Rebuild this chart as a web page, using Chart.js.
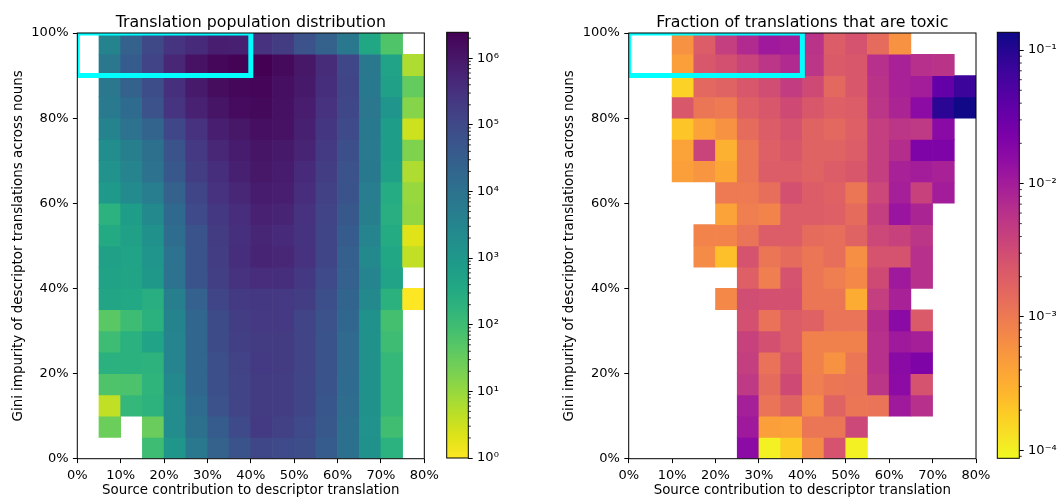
<!DOCTYPE html>
<html>
<head>
<meta charset="utf-8">
<script src="https://cdn.jsdelivr.net/npm/chart.js@4.4.0/dist/chart.umd.min.js"></script>
<style>
  html, body { margin: 0; padding: 0; background: #fff; }
  #wrap { position: relative; width: 1060px; height: 499px; }
  #wrap canvas { position: absolute; left: 0; top: 0; }
</style>
</head>
<body>
<div id="wrap">
  <canvas id="popChart" width="1060" height="499"></canvas>
  <canvas id="popBar" width="1060" height="499"></canvas>
  <canvas id="toxChart" width="1060" height="499"></canvas>
  <canvas id="toxBar" width="1060" height="499"></canvas>
</div>
<script>
// bin edges (%)
const sourceEdges = [0, 5, 10, 15, 20, 25, 30, 35, 40, 45, 50, 55, 60, 65, 70, 75, 80];
const giniEdges = [0, 5, 10, 15, 20, 25, 30, 35, 40, 45, 50, 55, 60, 65, 70, 75, 80, 85, 90, 95, 100];
const xTicks = [0, 10, 20, 30, 40, 50, 60, 70, 80];
const yTicks = [0, 20, 40, 60, 80, 100];
const highlightBox = [{x: 0, y: 90}, {x: 40, y: 90}, {x: 40, y: 100}, {x: 0, y: 100}, {x: 0, y: 90}];

const popLimits = [1, 2.45e6];
const popTicks = [1, 10, 100, 1e3, 1e4, 1e5, 1e6];
const popTickLabels = ['10⁰', '10¹', '10²', '10³', '10⁴', '10⁵', '10⁶'];
const toxicLimits = [8.7e-5, 0.136];
const toxicTicks = [1e-4, 1e-3, 1e-2, 1e-1];
const toxicTickLabels = ['10⁻⁴', '10⁻³', '10⁻²', '10⁻¹'];

// rows listed top (95-100%) to bottom (0-5%), columns 0-5% ... 75-80%
const populationCounts = [
  [null, 3500, 25000, 100000, 270000, 420000, 710000, 680000, 290000, 190000, 62000, 25000, 6800, 390, 58, null],
  [null, 7400, 35000, 130000, 500000, 1200000, 1900000, 2300000, 2450000, 1700000, 1000000, 390000, 110000, 6800, 480, 6],
  [null, 7400, 25000, 79000, 320000, 850000, 1500000, 1900000, 2000000, 1400000, 890000, 350000, 120000, 6300, 560, 34],
  [null, 6000, 15000, 62000, 270000, 630000, 1100000, 1600000, 1800000, 1300000, 790000, 300000, 110000, 7100, 1200, 15],
  [null, 3500, 10000, 22000, 110000, 290000, 710000, 1000000, 1400000, 1200000, 680000, 250000, 93000, 6300, 710, 3],
  [null, 2000, 4500, 11000, 56000, 210000, 500000, 830000, 1100000, 890000, 560000, 200000, 71000, 6000, 710, 17],
  [null, 1500, 3300, 10000, 45000, 170000, 360000, 680000, 1000000, 830000, 420000, 170000, 62000, 6300, 600, 6],
  [null, 890, 2200, 5000, 25000, 120000, 300000, 500000, 830000, 710000, 380000, 150000, 56000, 5000, 290, 10],
  [null, 200, 710, 2400, 17000, 93000, 220000, 380000, 630000, 560000, 300000, 130000, 45000, 4500, 250, 11],
  [null, 320, 560, 1600, 13000, 56000, 190000, 320000, 520000, 400000, 280000, 120000, 35000, 3300, 300, 2],
  [null, 560, 480, 1200, 10000, 56000, 170000, 360000, 560000, 500000, 300000, 120000, 30000, 2500, 380, 4],
  [null, 520, 460, 1000, 10000, 56000, 160000, 290000, 380000, 360000, 220000, 93000, 26000, 3200, 480, null],
  [null, 420, 350, 250, 4500, 26000, 120000, 200000, 220000, 210000, 170000, 74000, 21000, 2400, 210, 1],
  [null, 45, 100, 210, 3500, 19000, 83000, 170000, 210000, 210000, 130000, 62000, 19000, 1600, 83, null],
  [null, 100, 220, 480, 3200, 19000, 83000, 160000, 190000, 190000, 130000, 56000, 16000, 1600, 100, null],
  [null, 220, 210, 190, 3200, 19000, 74000, 140000, 200000, 190000, 130000, 56000, 16000, 1600, 140, null],
  [null, 60, 66, 170, 2400, 19000, 74000, 130000, 190000, 170000, 120000, 56000, 15000, 1600, 140, null],
  [null, 4, 140, 190, 2100, 15000, 62000, 130000, 190000, 170000, 120000, 50000, 13000, 1600, 140, null],
  [null, 28, null, 30, 2100, 11000, 35000, 93000, 200000, 150000, 93000, 45000, 11000, 1500, 93, null],
  [null, null, null, 100, 1100, 6800, 25000, 59000, 110000, 93000, 79000, 35000, 11000, 1600, 200, null]
];

const toxicFractions = [
  [null, null, 5.9e-4, 2.0e-3, 4.3e-3, 7.1e-3, 1.1e-2, 1.0e-2, 5.8e-3, 2.0e-3, 2.6e-3, 1.4e-3, 5.9e-4, null, null, null],
  [null, null, 4.4e-4, 2.4e-3, 2.8e-3, 3.7e-3, 5.4e-3, 7.1e-3, 5.4e-3, 2.2e-3, 2.4e-3, 6.2e-3, 8.9e-3, 6.2e-3, 5.8e-3, null],
  [null, null, 1.7e-4, 1.5e-3, 1.7e-3, 2.4e-3, 3.0e-3, 4.6e-3, 3.2e-3, 1.5e-3, 2.4e-3, 5.8e-3, 8.9e-3, 1.0e-2, 3.5e-2, 6.9e-2],
  [null, null, 2.4e-3, 1.1e-3, 1.0e-3, 1.9e-3, 2.4e-3, 3.2e-3, 2.4e-3, 1.9e-3, 2.0e-3, 5.4e-3, 8.3e-3, 1.6e-2, 9.3e-2, 0.13],
  [null, null, 2.1e-4, 4.1e-4, 5.9e-4, 1.4e-3, 2.0e-3, 2.6e-3, 1.7e-3, 1.5e-3, 1.9e-3, 4.3e-3, 5.4e-3, 4.9e-3, 1.7e-2, null],
  [null, null, 4.1e-4, 3.7e-3, 3.0e-4, 1.1e-3, 1.9e-3, 2.4e-3, 1.7e-3, 1.7e-3, 2.0e-3, 4.3e-3, 6.6e-3, 2.1e-2, 2.1e-2, null],
  [null, null, 4.4e-4, 5.5e-4, 3.8e-4, 1.1e-3, 2.0e-3, 2.0e-3, 1.7e-3, 2.0e-3, 2.4e-3, 4.3e-3, 8.9e-3, 1.0e-2, 8.9e-3, null],
  [null, null, null, null, 1.0e-3, 1.0e-3, 1.3e-3, 2.8e-3, 2.0e-3, 1.8e-3, 1.1e-3, 3.4e-3, 9.5e-3, 4.0e-3, 1.0e-2, null],
  [null, null, null, null, 4.1e-4, 9.1e-4, 7.9e-4, 2.0e-3, 2.0e-3, 1.9e-3, 1.4e-3, 4.3e-3, 1.2e-2, 8.3e-3, null, null],
  [null, null, null, 7.9e-4, 7.9e-4, 1.15e-3, 2.0e-3, 2.0e-3, 1.4e-3, 1.3e-3, 1.7e-3, 3.4e-3, 4.0e-3, 5.4e-3, null, null],
  [null, null, null, 6.8e-4, 2.3e-4, 2.6e-3, 1.1e-3, 1.4e-3, 1.1e-3, 1.3e-3, 6.3e-4, 2.6e-3, 2.6e-3, 6.2e-3, null, null],
  [null, null, null, null, null, 1.9e-3, 9.1e-4, 2.6e-3, 1.1e-3, 9.1e-4, 7.2e-4, 3.2e-3, 1.1e-2, 6.2e-3, null, null],
  [null, null, null, null, 7.2e-4, 3.0e-3, 2.8e-3, 2.8e-3, 1.1e-3, 1.1e-3, 3.3e-4, 4.3e-3, 8.9e-3, null, null, null],
  [null, null, null, null, null, 2.8e-3, 1.2e-3, 2.0e-3, 1.8e-3, 1.15e-3, 1.15e-3, 6.6e-3, 1.7e-2, 2.2e-3, null, null],
  [null, null, null, null, null, 4.0e-3, 2.8e-3, 2.0e-3, 8.5e-4, 8.5e-4, 8.5e-4, 6.2e-3, 1.1e-2, 9.5e-3, null, null],
  [null, null, null, null, null, 4.3e-3, 1.2e-3, 2.6e-3, 8.5e-4, 5.9e-4, 1.1e-3, 6.2e-3, 1.7e-2, 2.1e-2, null, null],
  [null, null, null, null, null, 4.9e-3, 1.4e-3, 3.2e-3, 9.1e-4, 1.1e-3, 1.15e-3, 5.4e-3, 1.6e-2, 2.6e-3, null, null],
  [null, null, null, null, null, 9.5e-3, 1.15e-3, 1.7e-3, 6.8e-4, 1.7e-3, 1.1e-3, 1.15e-3, 1.1e-2, 6.2e-3, null, null],
  [null, null, null, null, null, 1.1e-2, 4.4e-4, 4.1e-4, 1.1e-3, 1.1e-3, 3.4e-3, null, null, null, null, null],
  [null, null, null, null, null, 1.6e-2, 1.0e-4, 1.8e-4, 6.8e-4, 2.6e-3, 1.0e-4, null, null, null, null, null]
];

// colormaps sampled every 0.05
const VIRIDIS = ['#440154', '#471365', '#482475', '#463480', '#414487', '#3b528b', '#355f8d', '#2f6c8e', '#2a788e', '#25848e',
  '#21918c', '#1e9c89', '#22a884', '#2fb47c', '#44bf70', '#5ec962', '#7ad151', '#9bd93c', '#bddf26', '#dfe318', '#fde725'];
const PLASMA = ['#0d0887', '#2a0593', '#41049d', '#5601a4', '#6a00a8', '#7e03a8', '#8f0da4', '#a11b9b', '#b12a90', '#bf3984',
  '#cc4778', '#d8576b', '#e16462', '#ea7457', '#f2844b', '#f89540', '#fca636', '#feb72d', '#fcce25', '#f7e225', '#f0f921'];

function hexToRgb(h) {
  return [parseInt(h.slice(1, 3), 16), parseInt(h.slice(3, 5), 16), parseInt(h.slice(5, 7), 16)];
}

function sampleMap(stops, p) {
  p = Math.min(1, Math.max(0, p));
  const f = p * (stops.length - 1);
  const i = Math.min(stops.length - 2, Math.floor(f));
  const t = f - i;
  const a = hexToRgb(stops[i]), b = hexToRgb(stops[i + 1]);
  const c = a.map((v, k) => Math.round(v + (b[k] - v) * t));
  return `rgb(${c[0]},${c[1]},${c[2]})`;
}

// both maps are reversed: low values light, high values dark
function popColor(v) {
  const lo = Math.log10(popLimits[0]), hi = Math.log10(popLimits[1]);
  return sampleMap(VIRIDIS, 1 - (Math.log10(v) - lo) / (hi - lo));
}

function toxicColor(v) {
  const lo = Math.log10(toxicLimits[0]), hi = Math.log10(toxicLimits[1]);
  return sampleMap(PLASMA, 1 - (Math.log10(v) - lo) / (hi - lo));
}

function minorTicksFor(limits) {
  const out = [];
  for (let e = Math.floor(Math.log10(limits[0])); e <= Math.ceil(Math.log10(limits[1])); e++) {
    for (let m = 2; m <= 9; m++) {
      const v = m * Math.pow(10, e);
      if (v >= limits[0] && v <= limits[1]) out.push(v);
    }
  }
  return out;
}

Chart.defaults.font.family = '"DejaVu Sans", sans-serif';
Chart.defaults.font.size = 13;
Chart.defaults.color = '#000';

// axes frame, colorbar gradient, minor ticks and panel title
const framePlugin = {
  id: 'frame',
  beforeDatasetsDraw(chart, args, opts) {
    if (!opts.cmap) return;
    const {ctx, chartArea: a} = chart;
    const g = ctx.createLinearGradient(0, a.bottom, 0, a.top);
    const n = opts.cmap.length;
    opts.cmap.forEach((c, i) => g.addColorStop(i / (n - 1), opts.cmap[n - 1 - i]));
    ctx.save();
    ctx.fillStyle = g;
    ctx.fillRect(a.left, a.top, a.right - a.left, a.bottom - a.top);
    ctx.restore();
  },
  afterDatasetsDraw(chart, args, opts) {
    const {ctx, chartArea: a} = chart;
    ctx.save();
    ctx.strokeStyle = '#000';
    ctx.lineWidth = 1;
    ctx.strokeRect(a.left, a.top, a.right - a.left, a.bottom - a.top);
    if (opts.minorTicks) {
      const s = chart.scales.y;
      ctx.lineWidth = 0.8;
      ctx.beginPath();
      opts.minorTicks.forEach(v => {
        const y = s.getPixelForValue(v);
        ctx.moveTo(a.right, y);
        ctx.lineTo(a.right + 2.5, y);
      });
      ctx.stroke();
    }
    if (opts.title) {
      ctx.fillStyle = '#000';
      ctx.font = '15.8px "DejaVu Sans", sans-serif';
      ctx.textAlign = 'center';
      ctx.textBaseline = 'alphabetic';
      ctx.fillText(opts.title, (a.left + a.right) / 2, a.top - 6.5);
    }
    ctx.restore();
  }
};

function cellDatasets(matrix, colorFn) {
  const nRows = giniEdges.length - 1;
  return matrix.map((row, i) => {
    const r = nRows - 1 - i;
    const data = [];
    row.forEach((v, c) => {
      if (v === null) return;
      data.push({x: (sourceEdges[c] + sourceEdges[c + 1]) / 2, y: [giniEdges[r], giniEdges[r + 1]], v: v});
    });
    return {
      type: 'bar',
      data: data,
      grouped: false,
      barPercentage: 1,
      categoryPercentage: 1,
      borderWidth: 0,
      clip: 0,
      order: 1,
      backgroundColor: ctx => (ctx.raw ? colorFn(ctx.raw.v) : 'rgba(0,0,0,0)')
    };
  });
}

function heatmapChart(id, matrix, colorFn, title, padLeft, padRight) {
  const datasets = cellDatasets(matrix, colorFn);
  datasets.push({
    type: 'line',
    data: highlightBox,
    borderColor: '#00ffff',
    borderWidth: 5,
    borderJoinStyle: 'miter',
    pointRadius: 0,
    fill: false,
    tension: 0,
    clip: 0,
    order: 0
  });
  return new Chart(document.getElementById(id), {
    type: 'bar',
    data: {datasets: datasets},
    plugins: [framePlugin],
    options: {
      responsive: false,
      animation: false,
      events: [],
      layout: {padding: {left: padLeft, right: padRight, top: 33, bottom: 0}},
      plugins: {legend: {display: false}, tooltip: {enabled: false}, frame: {title: title}},
      scales: {
        x: {
          type: 'linear', min: 0, max: 80, offset: false,
          afterBuildTicks: s => { s.ticks = xTicks.map(v => ({value: v})); },
          ticks: {callback: v => v + '%', padding: 4.4, maxRotation: 0, autoSkip: false},
          grid: {display: true, offset: false, drawOnChartArea: false, tickLength: 4.4, tickColor: '#000', tickWidth: 1},
          border: {display: false},
          title: {display: true, text: 'Source contribution to descriptor translation', font: {size: 13.4}, padding: {top: 0, bottom: 0}},
          afterFit: s => { s.height = 40.3; }
        },
        y: {
          type: 'linear', min: 0, max: 100,
          afterBuildTicks: s => { s.ticks = yTicks.map(v => ({value: v})); },
          ticks: {callback: v => v + '%', padding: 4.4, autoSkip: false},
          grid: {display: true, drawOnChartArea: false, tickLength: 4.4, tickColor: '#000', tickWidth: 1},
          border: {display: false},
          title: {display: true, text: 'Gini impurity of descriptor translations across nouns', font: {size: 13.4}, padding: {top: 10, bottom: 0}},
          afterFit: s => { s.width = 77.3; }
        }
      }
    }
  });
}

function colorbarChart(id, cmap, limits, ticks, labels, pad, axisWidth) {
  return new Chart(document.getElementById(id), {
    type: 'bar',
    data: {labels: [], datasets: []},
    plugins: [framePlugin],
    options: {
      responsive: false,
      animation: false,
      events: [],
      layout: {padding: pad},
      plugins: {legend: {display: false}, tooltip: {enabled: false}, frame: {cmap: cmap, minorTicks: minorTicksFor(limits)}},
      scales: {
        x: {display: false},
        y: {
          type: 'logarithmic', position: 'right', display: true, min: limits[0], max: limits[1],
          afterBuildTicks: s => { s.ticks = ticks.map(v => ({value: v, major: true})); },
          ticks: {callback: (v, i) => labels[i], padding: 4.4, autoSkip: false},
          grid: {display: true, drawOnChartArea: false, tickLength: 4.4, tickColor: '#000', tickWidth: 1},
          border: {display: false},
          afterFit: s => { s.width = axisWidth; }
        }
      }
    }
  });
}

heatmapChart('popChart', populationCounts, popColor, 'Translation population distribution', 0, 635.7);
colorbarChart('popBar', VIRIDIS, popLimits, popTicks, popTickLabels, {left: 446.7, right: 531.7, top: 32.3, bottom: 41}, 60);
heatmapChart('toxChart', toxicFractions, toxicColor, 'Fraction of translations that are toxic', 551.4, 84);
colorbarChart('toxBar', PLASMA, toxicLimits, toxicTicks, toxicTickLabels, {left: 997.3, right: 0, top: 32.3, bottom: 40.7}, 40.7);
</script>
</body>
</html>
